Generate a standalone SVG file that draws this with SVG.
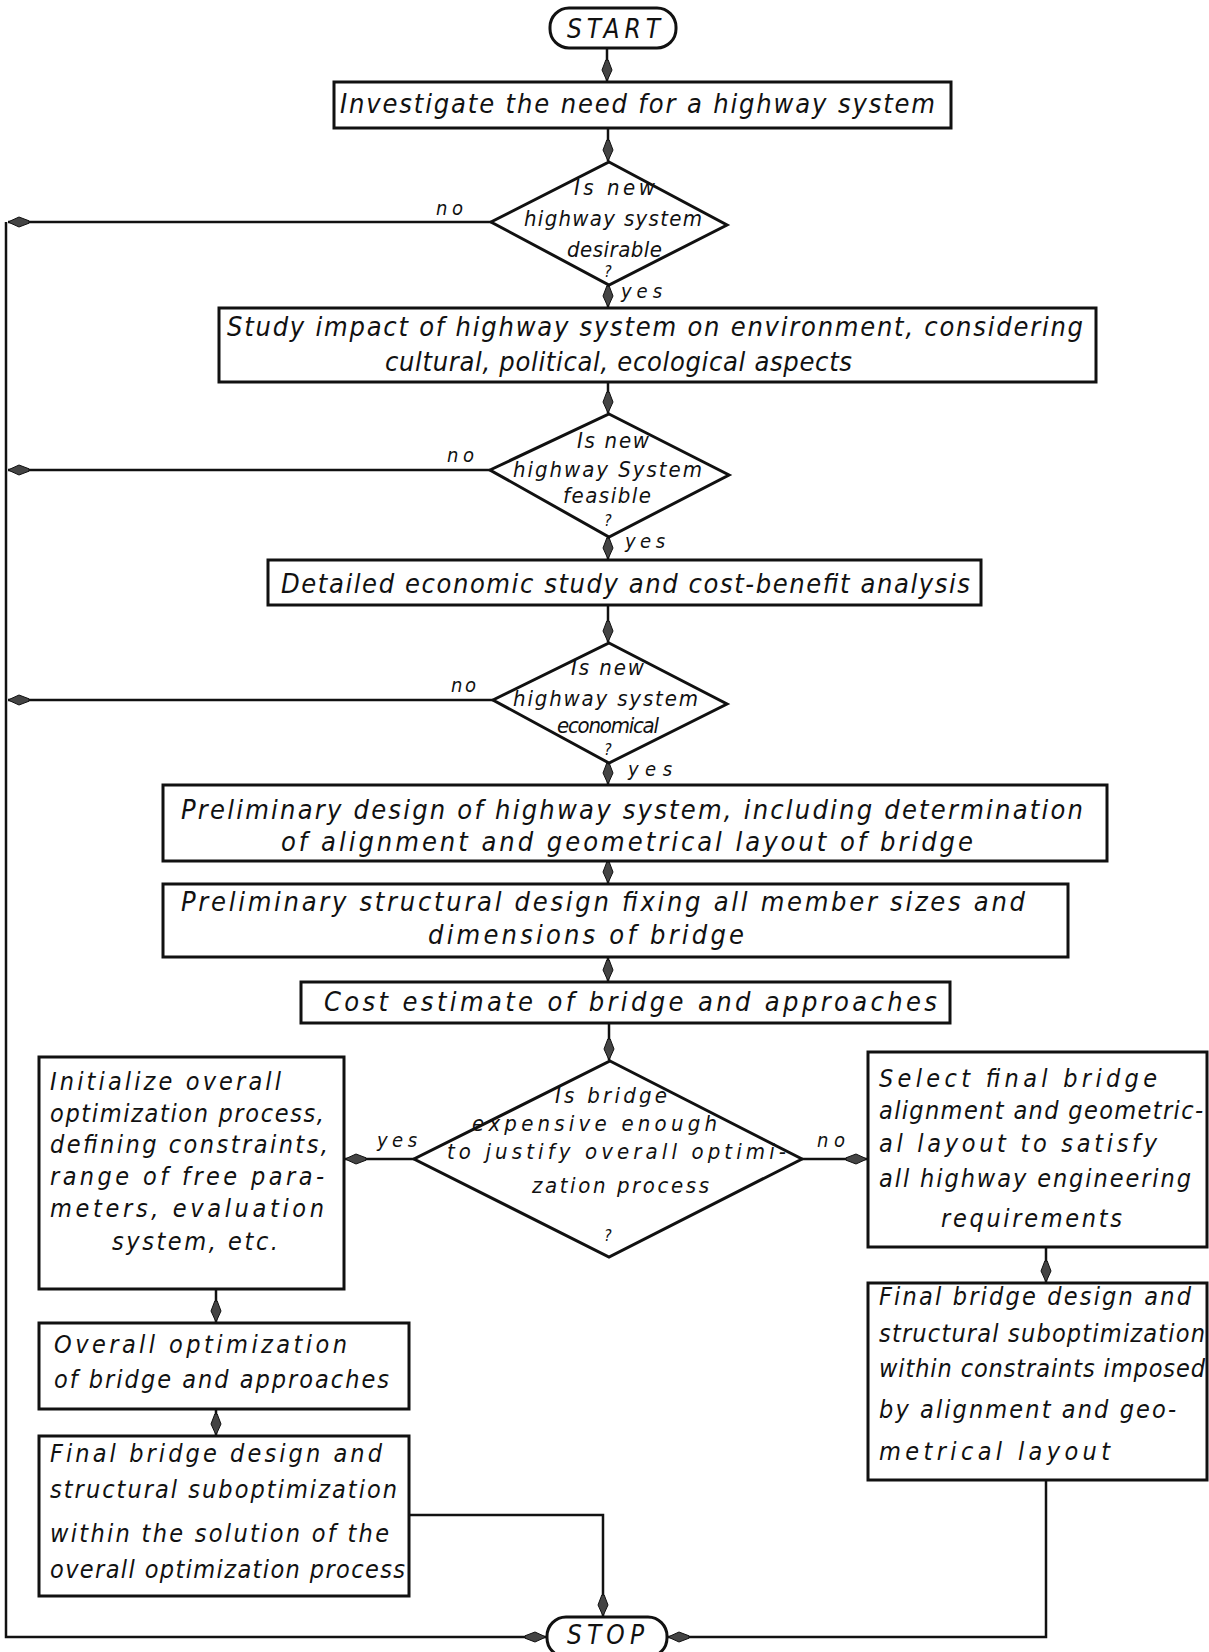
<svg xmlns="http://www.w3.org/2000/svg" width="1209" height="1652" viewBox="0 0 1209 1652">
<defs>
<style>
.bx{fill:#fff;stroke:#111;stroke-width:3}
.ln{fill:none;stroke:#111;stroke-width:2.5}
text{font-family:"Liberation Sans Narrow","DejaVu Sans Condensed","Liberation Sans",sans-serif;font-style:italic;fill:#111}
.t{font-size:27px}
.d{font-size:22px}
.q{font-size:16px}
.s{font-size:25px}
.l{font-size:20px}
</style>
<marker id="ah" viewBox="-22 -6 24 12" refX="0" refY="0" markerWidth="24" markerHeight="12" markerUnits="userSpaceOnUse" orient="auto">
<path d="M0,0 L-11,-5 L-21,-1.2 L-21,1.2 L-11,5 Z" fill="#444" stroke="#111" stroke-width="1"/>
</marker>
</defs>
<rect width="1209" height="1652" fill="#fff"/>

<g id="connectors">
<line class="ln" x1="607" y1="48" x2="607" y2="81" marker-end="url(#ah)"/>
<line class="ln" x1="608" y1="128" x2="608" y2="161" marker-end="url(#ah)"/>
<line class="ln" x1="608" y1="285" x2="608" y2="307" marker-end="url(#ah)"/>
<line class="ln" x1="608" y1="382" x2="608" y2="413" marker-end="url(#ah)"/>
<line class="ln" x1="608" y1="537" x2="608" y2="559" marker-end="url(#ah)"/>
<line class="ln" x1="608" y1="605" x2="608" y2="642" marker-end="url(#ah)"/>
<line class="ln" x1="608" y1="763" x2="608" y2="784" marker-end="url(#ah)"/>
<line class="ln" x1="608" y1="861" x2="608" y2="883" marker-end="url(#ah)"/>
<line class="ln" x1="608" y1="957" x2="608" y2="981" marker-end="url(#ah)"/>
<line class="ln" x1="609" y1="1023" x2="609" y2="1060" marker-end="url(#ah)"/>
<line class="ln" x1="491" y1="222" x2="8" y2="222" marker-end="url(#ah)"/>
<line class="ln" x1="490" y1="470" x2="8" y2="470" marker-end="url(#ah)"/>
<line class="ln" x1="493" y1="700" x2="8" y2="700" marker-end="url(#ah)"/>
<polyline class="ln" points="6,222 6,1637 546,1637" marker-end="url(#ah)"/>
<line class="ln" x1="414" y1="1159" x2="345" y2="1159" marker-end="url(#ah)"/>
<line class="ln" x1="802" y1="1159" x2="867" y2="1159" marker-end="url(#ah)"/>
<line class="ln" x1="216" y1="1289" x2="216" y2="1322" marker-end="url(#ah)"/>
<line class="ln" x1="216" y1="1409" x2="216" y2="1435" marker-end="url(#ah)"/>
<line class="ln" x1="1046" y1="1247" x2="1046" y2="1282" marker-end="url(#ah)"/>
<polyline class="ln" points="409,1515 603,1515 603,1616" marker-end="url(#ah)"/>
<polyline class="ln" points="1046,1480 1046,1637 668,1637" marker-end="url(#ah)"/>
<text class="l" x="436" y="215" textLength="27">no</text>
<text class="l" x="621" y="298" textLength="41">yes</text>
<text class="l" x="447" y="462" textLength="27">no</text>
<text class="l" x="625" y="548" textLength="40">yes</text>
<text class="l" x="451" y="692" textLength="25">no</text>
<text class="l" x="628" y="776" textLength="44">yes</text>
<text class="l" x="377" y="1147" textLength="40">yes</text>
<text class="l" x="817" y="1147" textLength="28">no</text>
</g>

<g id="start">
<rect class="bx" x="550" y="8" width="126" height="40" rx="19"/>
<text class="s" x="567" y="38" textLength="93" style="font-size:26px">START</text>
</g>

<g id="n1">
<rect class="bx" x="334" y="82" width="617" height="46"/>
<text class="t" x="340" y="113" textLength="595">Investigate the need for a highway system</text>
</g>

<g id="d1">
<polygon class="bx" points="609,162 727,225 609,285 491,222"/>
<text class="d" x="574" y="195" textLength="81">Is new</text>
<text class="d" x="524" y="226" textLength="178">highway system</text>
<text class="d" x="567" y="257" textLength="95">desirable</text>
<text class="q" x="604" y="277">?</text>
</g>

<g id="n2">
<rect class="bx" x="219" y="308" width="877" height="74"/>
<text class="t" x="227" y="336" textLength="856">Study impact of highway system on environment, considering</text>
<text class="t" x="385" y="371" textLength="467">cultural, political, ecological aspects</text>
</g>

<g id="d2">
<polygon class="bx" points="609,414 729,475 609,537 490,470"/>
<text class="d" x="577" y="448" textLength="72">Is new</text>
<text class="d" x="513" y="477" textLength="189">highway System</text>
<text class="d" x="563" y="503" textLength="88">feasible</text>
<text class="q" x="604" y="526">?</text>
</g>

<g id="n3">
<rect class="bx" x="268" y="560" width="713" height="45"/>
<text class="t" x="281" y="593" textLength="689">Detailed economic study and cost-benefit analysis</text>
</g>

<g id="d3">
<polygon class="bx" points="609,643 727,704 609,763 493,700"/>
<text class="d" x="571" y="675" textLength="73">Is new</text>
<text class="d" x="513" y="706" textLength="185">highway system</text>
<text class="d" x="557" y="733" textLength="102">economical</text>
<text class="q" x="604" y="755">?</text>
</g>

<g id="n4">
<rect class="bx" x="163" y="785" width="944" height="76"/>
<text class="t" x="181" y="819" textLength="902">Preliminary design of highway system, including determination</text>
<text class="t" x="281" y="851" textLength="692">of alignment and geometrical layout of bridge</text>
</g>

<g id="n5">
<rect class="bx" x="163" y="884" width="905" height="73"/>
<text class="t" x="181" y="911" textLength="844">Preliminary structural design fixing all member sizes and</text>
<text class="t" x="428" y="944" textLength="316">dimensions of bridge</text>
</g>

<g id="n6">
<rect class="bx" x="301" y="982" width="649" height="41"/>
<text class="t" x="324" y="1011" textLength="613">Cost estimate of bridge and approaches</text>
</g>

<g id="d4">
<polygon class="bx" points="610,1061 802,1159 609,1257 414,1159"/>
<text class="d" x="555" y="1103" textLength="112">Is bridge</text>
<text class="d" x="472" y="1131" textLength="245">expensive enough</text>
<text class="d" x="447" y="1159" textLength="339">to justify overall optimi-</text>
<text class="d" x="532" y="1193" textLength="177">zation process</text>
<text class="q" x="604" y="1241">?</text>
</g>

<g id="n7">
<rect class="bx" x="39" y="1057" width="305" height="232"/>
<text class="s" x="50" y="1090" textLength="231">Initialize overall</text>
<text class="s" x="50" y="1122" textLength="274">optimization process,</text>
<text class="s" x="50" y="1153" textLength="278">defining constraints,</text>
<text class="s" x="50" y="1185" textLength="274">range of free para-</text>
<text class="s" x="50" y="1217" textLength="274">meters, evaluation</text>
<text class="s" x="112" y="1250" textLength="166">system, etc.</text>
</g>

<g id="n8">
<rect class="bx" x="868" y="1052" width="339" height="195"/>
<text class="s" x="879" y="1087" textLength="278">Select final bridge</text>
<text class="s" x="879" y="1119" textLength="324">alignment and geometric-</text>
<text class="s" x="879" y="1152" textLength="278">al layout to satisfy</text>
<text class="s" x="879" y="1187" textLength="312">all highway engineering</text>
<text class="s" x="941" y="1227" textLength="181">requirements</text>
</g>

<g id="n9">
<rect class="bx" x="39" y="1323" width="370" height="86"/>
<text class="s" x="54" y="1353" textLength="293">Overall optimization</text>
<text class="s" x="54" y="1388" textLength="335">of bridge and approaches</text>
</g>

<g id="n10">
<rect class="bx" x="868" y="1283" width="339" height="197"/>
<text class="s" x="879" y="1305" textLength="312">Final bridge design and</text>
<text class="s" x="879" y="1342" textLength="326">structural suboptimization</text>
<text class="s" x="879" y="1377" textLength="326">within constraints imposed</text>
<text class="s" x="879" y="1418" textLength="297">by alignment and geo-</text>
<text class="s" x="879" y="1460" textLength="231">metrical layout</text>
</g>

<g id="n11">
<rect class="bx" x="39" y="1436" width="370" height="160"/>
<text class="s" x="50" y="1462" textLength="332">Final bridge design and</text>
<text class="s" x="50" y="1498" textLength="347">structural suboptimization</text>
<text class="s" x="50" y="1542" textLength="339">within the solution of the</text>
<text class="s" x="50" y="1578" textLength="355">overall optimization process</text>
</g>

<g id="stop">
<rect class="bx" x="547" y="1617" width="120" height="40" rx="19"/>
<text class="s" x="567" y="1644" textLength="77" style="font-size:26px">STOP</text>
</g>
</svg>
